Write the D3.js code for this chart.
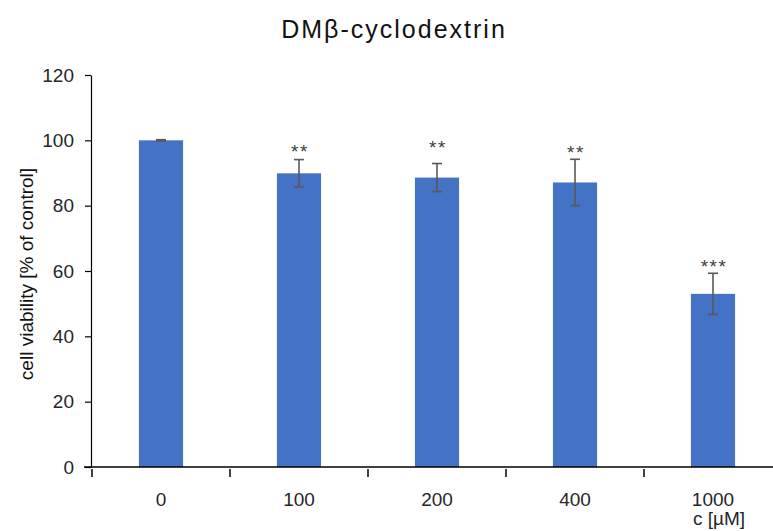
<!DOCTYPE html>
<html><head><meta charset="utf-8">
<script src="https://cdn.jsdelivr.net/npm/d3@7"></script>
<style>body{margin:0;background:#fff;}svg{display:block;}</style>
</head><body>
<svg id="c" width="773" height="531"></svg>
<script>
const categories = ["0", "100", "200", "400", "1000"];
const viability = [100, 89.9, 88.6, 87.1, 53.0];
const errors = [0.2, 4.2, 4.3, 7.1, 6.3];
const significance = ["", "**", "**", "**", "***"];
const significanceAt = [0, 97.6, 98.9, 97.3, 62.4];
const yTicks = [0, 20, 40, 60, 80, 100, 120];

const svg = d3.select("#c");
const font = "'Liberation Sans', Arial, sans-serif";
const x = d3.scaleBand().domain(categories).range([92, 782]).paddingInner(0.68).paddingOuter(0.34);
const y = d3.scaleLinear().domain([0, 120]).range([467, 75]);

svg.append("text").attr("x", 394).attr("y", 38).attr("text-anchor", "middle")
  .attr("font-family", font).attr("font-size", 25).attr("letter-spacing", 2)
  .attr("fill", "#111").text("DMβ-cyclodextrin");

// y axis
const ya = svg.append("g").attr("transform", "translate(91,0)")
  .call(d3.axisLeft(y).tickValues(yTicks).tickSize(6).tickPadding(11).tickSizeOuter(0));
ya.select(".domain").attr("stroke", "#000").attr("stroke-width", 1.2);
ya.selectAll(".tick line").attr("stroke", "#000").attr("stroke-width", 1.2);
ya.selectAll(".tick text").attr("font-family", font).attr("font-size", 19).attr("fill", "#262626");

// bars
svg.append("g").selectAll("rect").data(categories).join("rect")
  .attr("x", d => x(d)).attr("width", x.bandwidth())
  .attr("y", (d, i) => y(viability[i])).attr("height", (d, i) => y(0) - y(viability[i]))
  .attr("fill", "#4472C4");

// x axis line and ticks
svg.append("line").attr("x1", 84).attr("x2", 773).attr("y1", y(0)).attr("y2", y(0))
  .attr("stroke", "#000").attr("stroke-width", 1.5);
const bounds = categories.map(c => x(c) - x.step() * x.paddingOuter());
const xa = svg.append("g").attr("transform", "translate(0,470)")
  .call(d3.axisBottom(x).tickSize(0).tickPadding(0).tickSizeOuter(0));
xa.select(".domain").remove();
xa.selectAll(".tick text").attr("dy", null).attr("y", 36)
  .attr("font-family", font).attr("font-size", 19).attr("fill", "#262626");
svg.append("g").selectAll("line").data(bounds).join("line")
  .attr("x1", d => d).attr("x2", d => d).attr("y1", 469).attr("y2", 477)
  .attr("stroke", "#000").attr("stroke-width", 1.5);

// error bars
const eb = svg.append("g").attr("stroke", "#595959").attr("stroke-width", 1.6);
categories.forEach((c, i) => {
  const cx = x(c) + x.bandwidth() / 2;
  const top = y(viability[i] + errors[i]), bot = y(viability[i] - errors[i]);
  eb.append("line").attr("x1", cx).attr("x2", cx).attr("y1", top).attr("y2", bot);
  eb.append("line").attr("x1", cx - 5).attr("x2", cx + 5).attr("y1", top).attr("y2", top);
  eb.append("line").attr("x1", cx - 5).attr("x2", cx + 5).attr("y1", bot).attr("y2", bot);
});

// significance
svg.append("g").selectAll("text").data(categories).join("text")
  .attr("x", d => x(d) + x.bandwidth() / 2 + 1)
  .attr("y", (d, i) => y(significanceAt[i]) + 10)
  .attr("text-anchor", "middle").attr("font-family", font).attr("font-size", 19)
  .attr("letter-spacing", 1.5).attr("fill", "#404040").text((d, i) => significance[i]);

// axis titles
svg.append("text").attr("transform", "translate(33,274) rotate(-90)").attr("text-anchor", "middle")
  .attr("font-family", font).attr("font-size", 19).attr("fill", "#111").text("cell viability [% of control]");
svg.append("text").attr("x", 693).attr("y", 525).attr("text-anchor", "start")
  .attr("font-family", font).attr("font-size", 19).attr("fill", "#262626").text("c [µM]");
</script>
</body></html>
